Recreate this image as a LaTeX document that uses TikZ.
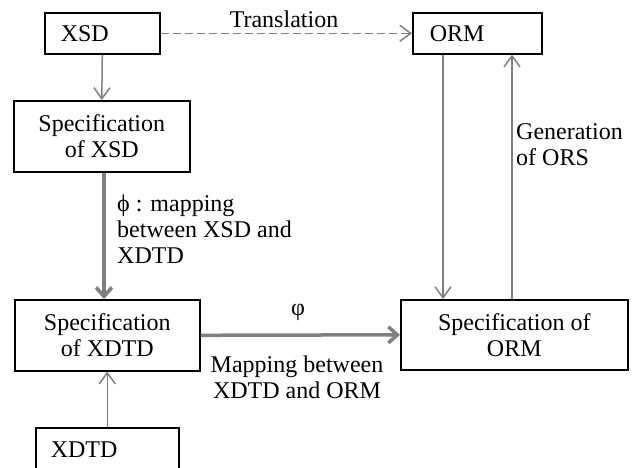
\documentclass[tikz,border=0pt]{standalone}
\usepackage{fontspec}
\setmainfont{Liberation Serif}
\usetikzlibrary{arrows.meta}
\definecolor{arrowgray}{HTML}{808080}
\begin{document}
\begin{tikzpicture}[x=1pt,y=-1pt,
  txt/.style={font=\fontsize{24}{26}\selectfont},
  box/.style={txt,draw=black,line width=1.6pt,rectangle,align=center,inner sep=0pt,anchor=north west},
  lbl/.style={txt,inner sep=0pt},
  thinarrow/.style={draw=arrowgray,line width=1.5pt,-{Straight Barb[length=11pt,width=16pt]}},
  thickarrow/.style={draw=arrowgray,line width=3.5pt,-{Straight Barb[length=9pt,width=16pt]}},
  dasharrow/.style={draw=arrowgray,line width=1.5pt,dash pattern=on 8pt off 4pt,-{Straight Barb[length=11pt,width=16pt]}}
]
\clip (0,0) rectangle (634,468);
\fill[white] (0,0) rectangle (634,468);

\node[box,text width=83pt,align=left,inner xsep=16pt,minimum height=41pt] (xsd) at (44,12) {XSD};
\node[box,text width=95pt,align=left,inner xsep=17pt,minimum height=41pt] (orm) at (412,12) {ORM};
\node[box,minimum width=176pt,minimum height=71pt] (specxsd) at (13,100) {Specification\\of XSD};
\node[box,minimum width=185pt,minimum height=71pt] (specxdtd) at (14,299) {Specification\\of XDTD};
\node[box,minimum width=227pt,minimum height=70pt] (specorm) at (400,299) {Specification of\\ORM};
\node[box,text width=113pt,align=left,inner xsep=15pt,minimum height=43pt] (xdtd) at (35,427) {XDTD};

\draw[dasharrow] (xsd.east) -- (orm.west);
\node[lbl,anchor=base] (ltrans) at (284,28) {Translation};

\draw[thinarrow] (xsd.south) -- (specxsd.north);
\draw[thickarrow] (specxsd.south -| 104,0) -- (specxdtd.north -| 104,0);
\node[lbl,anchor=base west,align=left] (lphi) at (117,263) {ϕ : mapping\\between XSD and\\XDTD};

\draw[thinarrow] (xdtd.north) -- (specxdtd.south);

\draw[thickarrow] (specxdtd.east) -- (specorm.west);
\node[lbl,anchor=base] (lvarphi) at (298,315) {φ};
\node[lbl,anchor=base,align=center] (lmap) at (297,398) {Mapping between\\XDTD and ORM};

\draw[thinarrow] (orm.south -| 443,0) -- (specorm.north -| 443,0);
\draw[thinarrow] (specorm.north -| 512,0) -- (orm.south -| 512,0);
\node[lbl,anchor=base west,align=left] (lgen) at (516,165) {Generation\\of ORS};
\end{tikzpicture}
\end{document}
